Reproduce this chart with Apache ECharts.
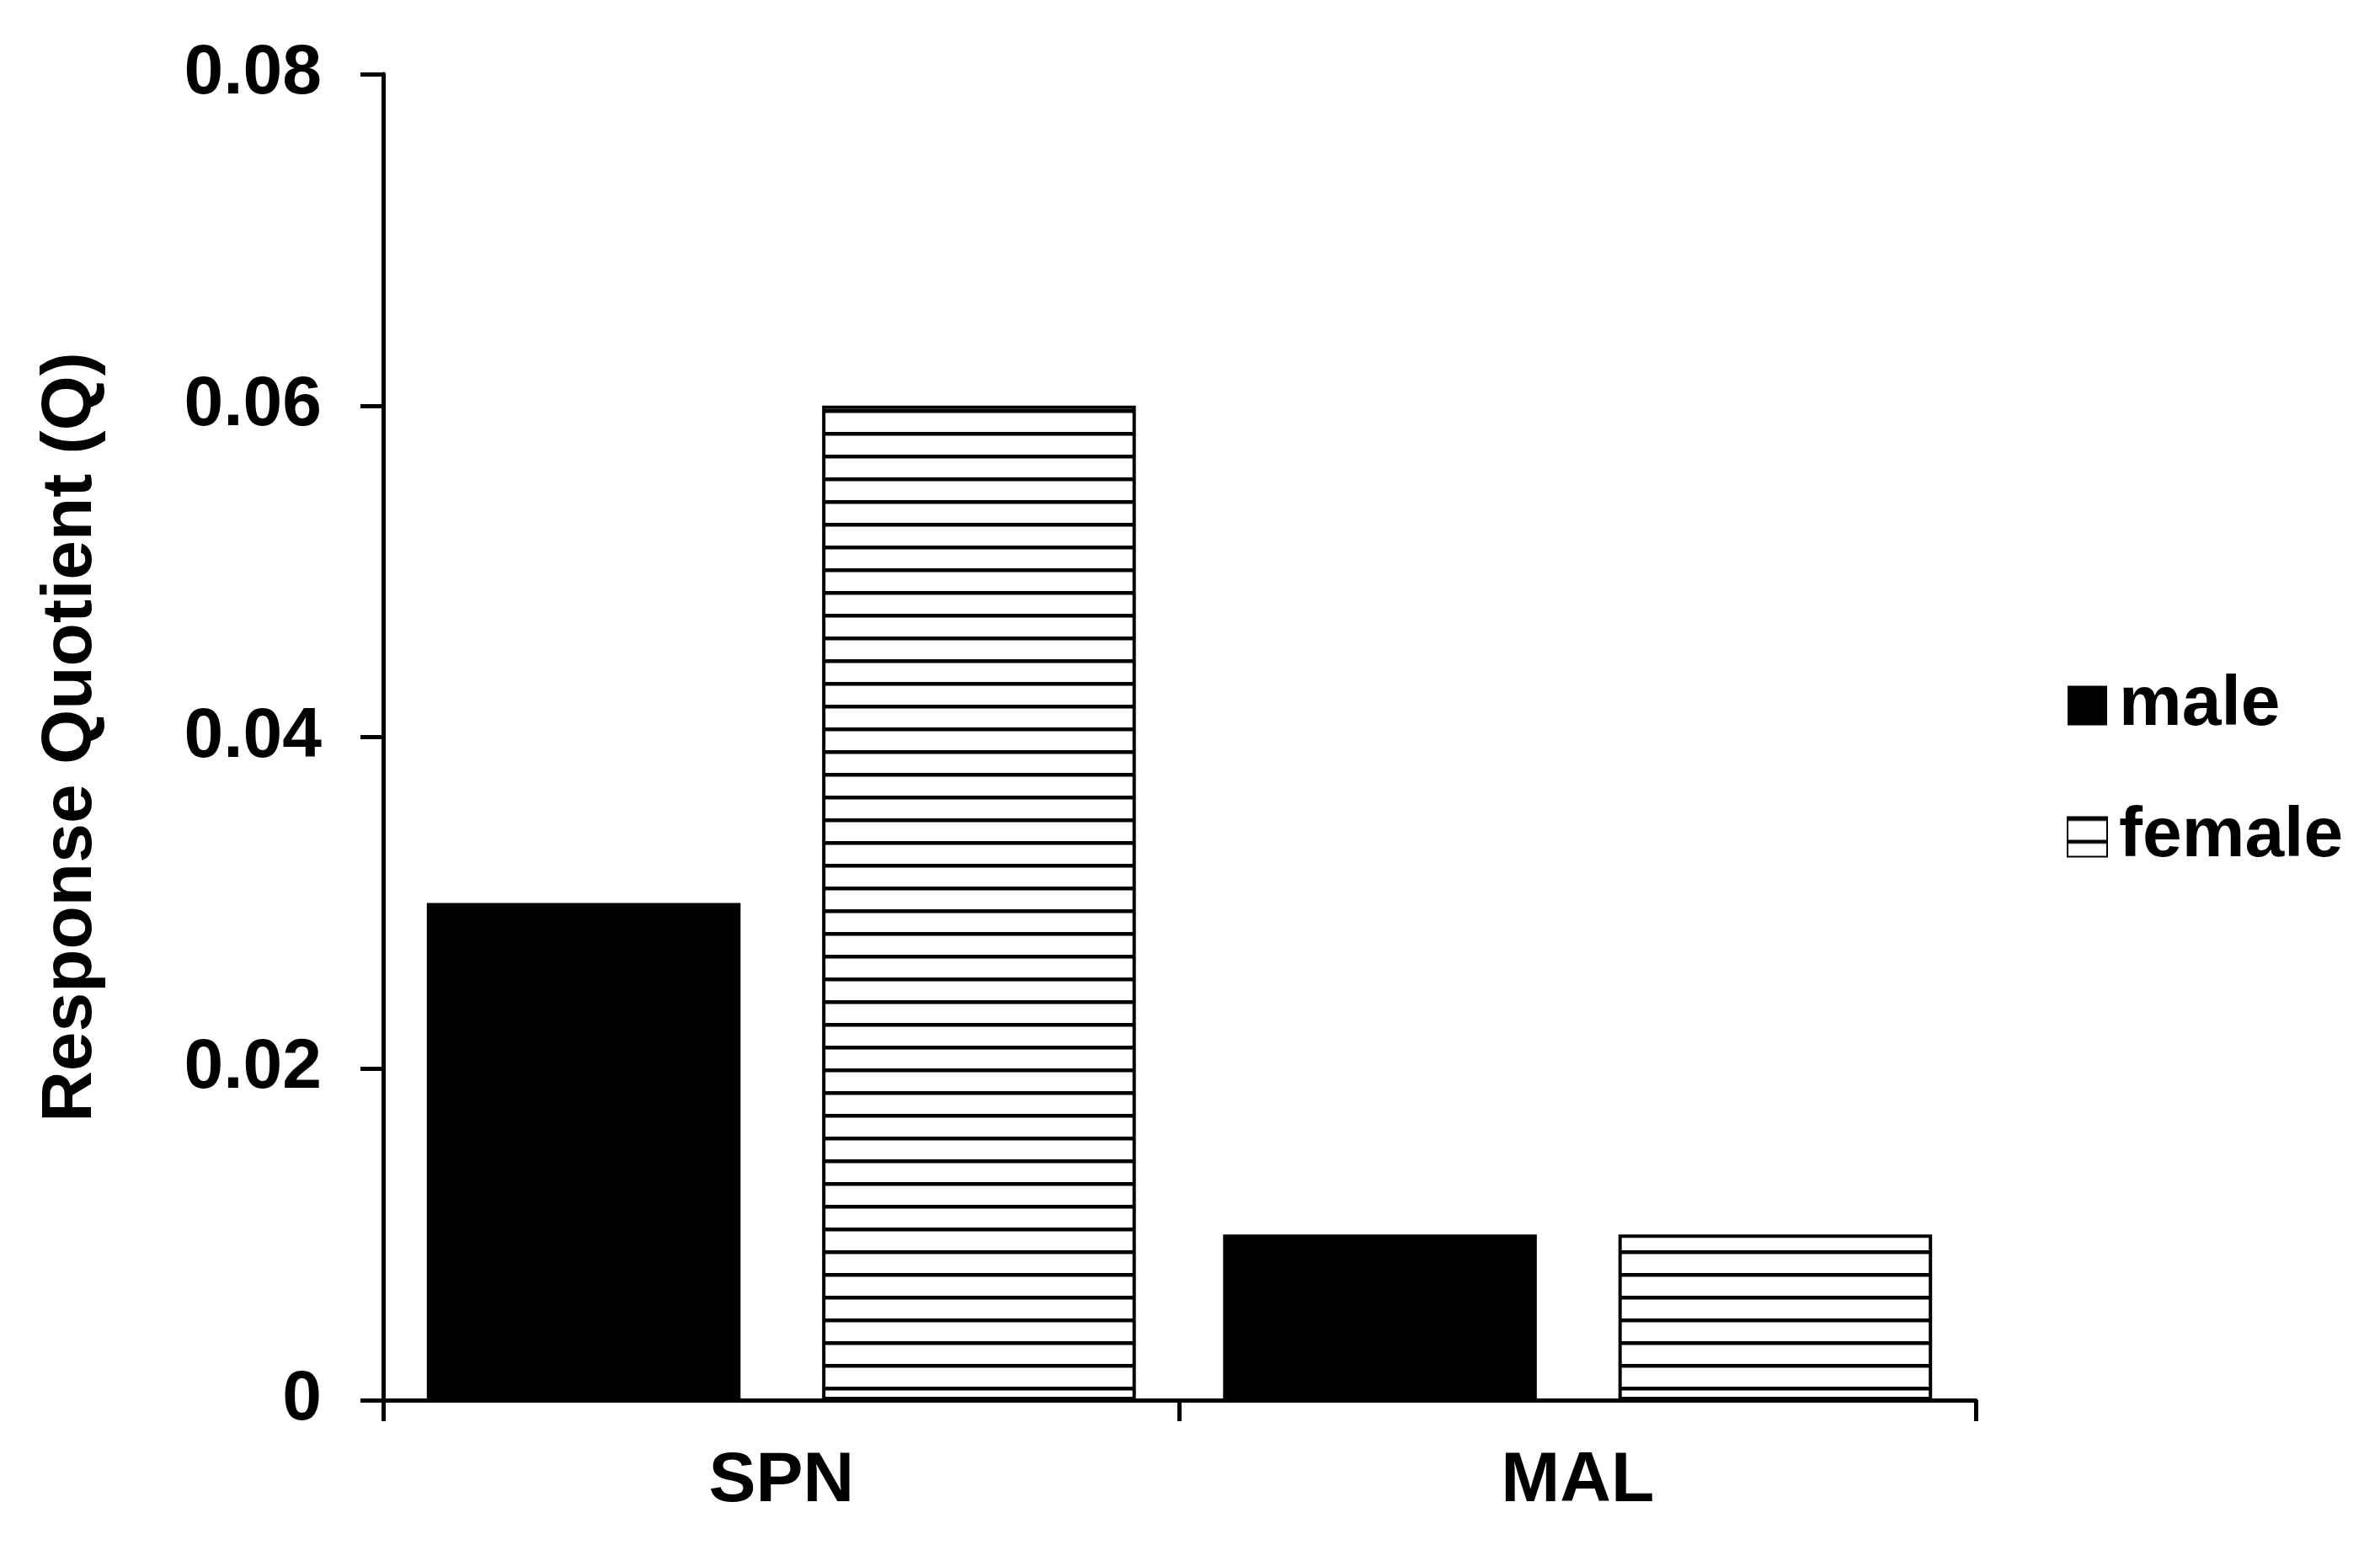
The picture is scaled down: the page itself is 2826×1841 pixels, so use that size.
<!DOCTYPE html>
<html>
<head>
<meta charset="utf-8">
<script src="https://cdn.jsdelivr.net/npm/echarts@6/dist/echarts.min.js"></script>
<style>
html,body{margin:0;padding:0;background:#fff;}
#chart{width:2826px;height:1841px;}
</style>
</head>
<body>
<div id="chart"></div>
<script>
const categories = ['SPN', 'MAL'];
const maleValues = [0.03, 0.01];
const femaleValues = [0.06, 0.01];
const seriesNames = ['male', 'female'];
const yTickLabels = ['0', '0.02', '0.04', '0.06', '0.08'];

const FONT = '"Liberation Sans", Arial, sans-serif';

// horizontal stripe pattern
const pc = document.createElement('canvas');
pc.width = 27; pc.height = 27;
const g = pc.getContext('2d');
g.fillStyle = '#fff'; g.fillRect(0, 0, 27, 27);
g.fillStyle = '#000'; g.fillRect(0, 0, 27, 4.5);

const chart = echarts.init(document.getElementById('chart'), null, {renderer: 'canvas'});
chart.setOption({
  backgroundColor: '#fff',
  animation: false,
  grid: {left: 455, top: 88, width: 1891, height: 1575, containLabel: false},
  legend: {
    orient: 'vertical',
    left: 2449,
    top: 791,
    itemWidth: 47,
    itemHeight: 47,
    itemGap: 72,
    icon: 'rect',
    data: seriesNames,
    textStyle: {fontFamily: FONT, fontWeight: 'bold', fontSize: 84, color: '#000', padding: [0, 0, 0, 9]}
  },
  xAxis: {
    type: 'category',
    data: categories,
    axisLine: {lineStyle: {color: '#000', width: 5}},
    axisTick: {show: true, length: 25, lineStyle: {color: '#000', width: 5}},
    axisLabel: {fontFamily: FONT, fontWeight: 'bold', fontSize: 84, color: '#000', margin: 55},
    splitLine: {show: false}
  },
  yAxis: {
    type: 'value',
    min: 0, max: 0.08, interval: 0.02,
    name: 'Response Quotient (Q)',
    nameLocation: 'middle',
    nameRotate: 90,
    nameGap: 328,
    nameTextStyle: {fontFamily: FONT, fontWeight: 'bold', fontSize: 84, color: '#000'},
    axisLine: {show: true, lineStyle: {color: '#000', width: 5}},
    axisTick: {show: true, length: 27, lineStyle: {color: '#000', width: 5}},
    axisLabel: {
      fontFamily: FONT, fontWeight: 'bold', fontSize: 84, color: '#000', margin: 73,
      formatter: function (v) { return yTickLabels[Math.round(v / 0.02)]; }
    },
    splitLine: {show: false}
  },
  series: [
    {
      name: seriesNames[0], type: 'bar', data: maleValues,
      barWidth: '39.4%', barGap: '26%',
      itemStyle: {color: '#000'}
    },
    {
      name: seriesNames[1], type: 'bar', data: femaleValues,
      barWidth: '39.4%', barGap: '26%',
      itemStyle: {color: {image: pc, repeat: 'repeat'}, borderColor: '#000', borderWidth: 4}
    }
  ]
});
</script>
</body>
</html>
